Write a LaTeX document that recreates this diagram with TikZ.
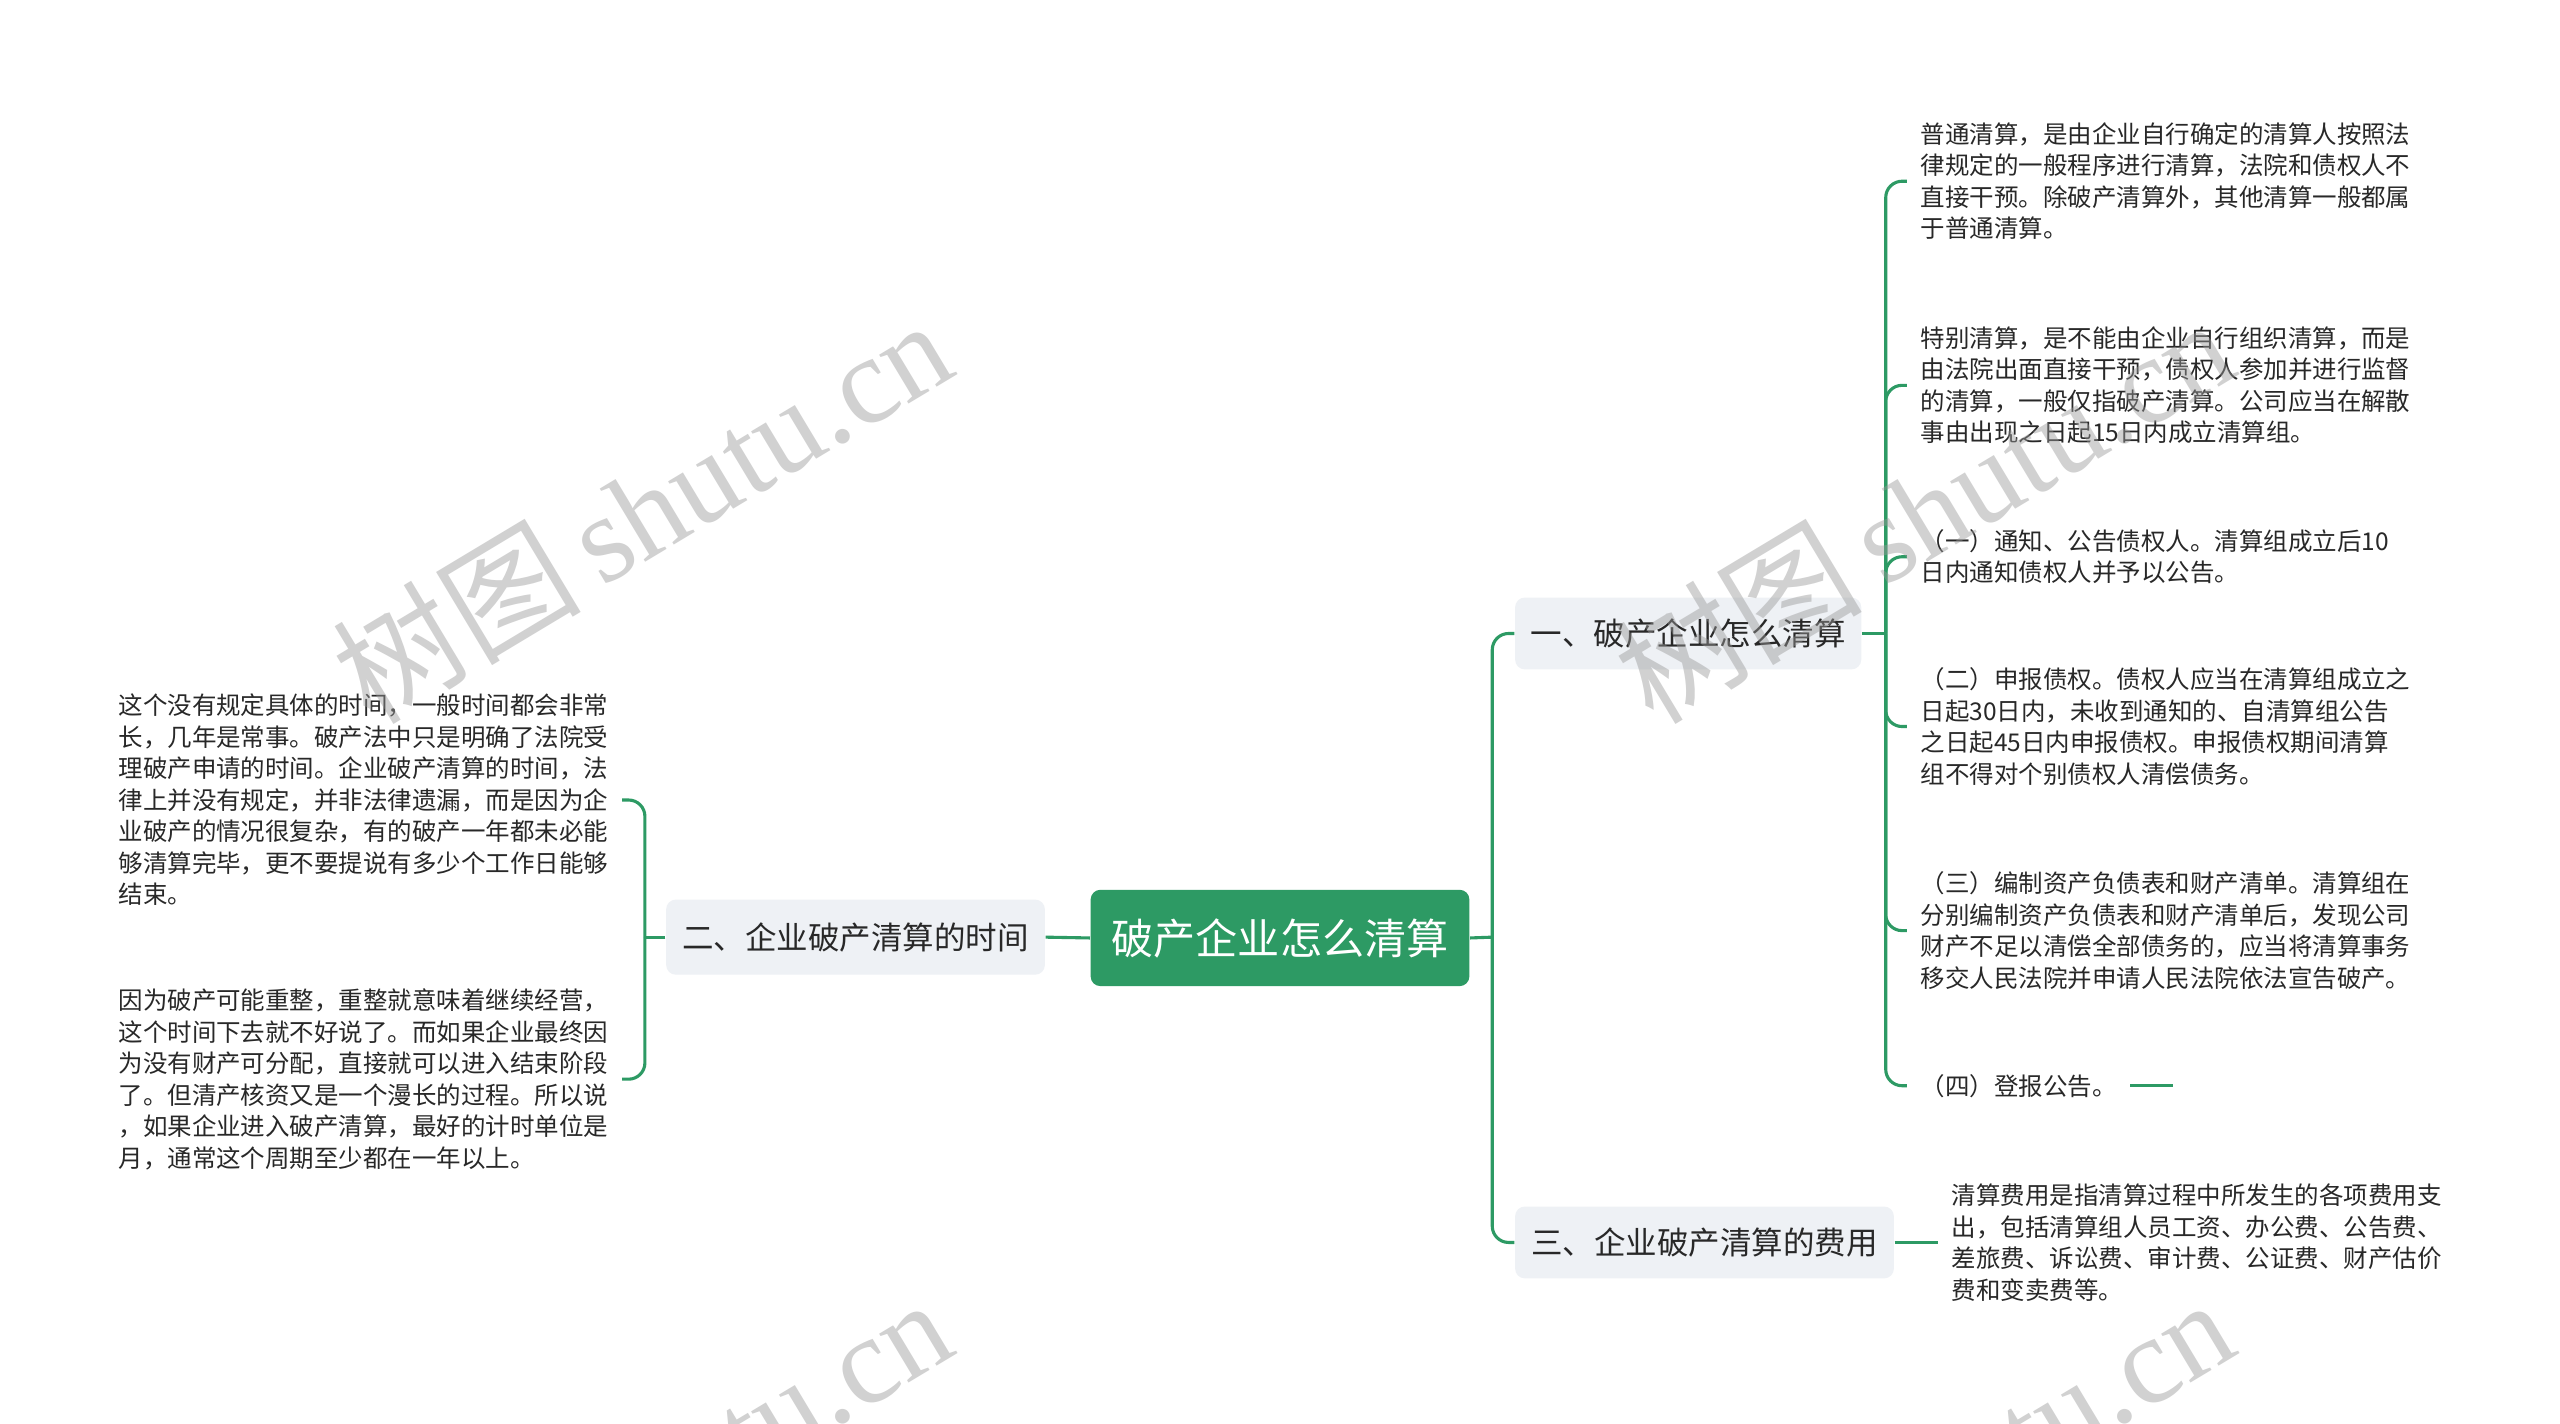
\documentclass[tikz,border=0pt]{standalone}
\usepackage{fontspec}
\setmainfont{Noto Sans CJK SC}
\newfontfamily\wmlatin{Liberation Serif}
\definecolor{mgreen}{HTML}{2D9A64}
\definecolor{bfill}{HTML}{EEF1F5}
\definecolor{txt}{HTML}{282828}
\tikzset{
  conn/.style={draw=mgreen, line width=0.95pt},
  rootbox/.style={fill=mgreen, rounded corners=3pt, text=white, minimum width=116pt, minimum height=29.5pt, inner sep=0pt, font=\fontsize{12.9pt}{15pt}\selectfont},
  branchbox/.style={fill=bfill, rounded corners=3pt, text=txt, minimum height=22pt, inner sep=0pt, font=\fontsize{9.65pt}{11pt}\selectfont},
  leaftext/.style={text=txt, align=left, inner xsep=4pt, inner ysep=0pt, font=\fontsize{7.5pt}{9.65pt}\selectfont},
  wmark/.style={rotate=31, text=black!40, opacity=0.45, inner sep=0pt},
}
\newcommand{\wmtext}{{\fontsize{38pt}{38pt}\selectfont 树图\,\wmlatin\fontsize{38pt}{38pt}\selectfont shutu.cn}}
\begin{document}
\begin{tikzpicture}[x=0.5pt,y=-0.5pt]
\useasboundingbox (0,0) rectangle (1568,872);
\fill[white] (0,0) rectangle (1568,872);

% nodes
\node[rootbox] (root) at (784,574.5) {破产企业怎么清算};
\node[branchbox, minimum width=116pt, minimum height=23pt] (b2) at (524,574) {二、企业破产清算的时间};
\node[branchbox, minimum width=106pt] (b1) at (1034,388) {一、破产企业怎么清算};
\node[branchbox, minimum width=116pt] (b3) at (1044,761) {三、企业破产清算的费用};

\node[leaftext, anchor=east] (la) at (381,490) {这个没有规定具体的时间，一般时间都会非常\\长，几年是常事。破产法中只是明确了法院受\\理破产申请的时间。企业破产清算的时间，法\\律上并没有规定，并非法律遗漏，而是因为企\\业破产的情况很复杂，有的破产一年都未必能\\够清算完毕，更不要提说有多少个工作日能够\\结束。};
\node[leaftext, anchor=east] (lb) at (381,661) {因为破产可能重整，重整就意味着继续经营，\\这个时间下去就不好说了。而如果企业最终因\\为没有财产可分配，直接就可以进入结束阶段\\了。但清产核资又是一个漫长的过程。所以说\\，如果企业进入破产清算，最好的计时单位是\\月，通常这个周期至少都在一年以上。};

\node[leaftext, anchor=west] (r1) at (1168,111) {普通清算，是由企业自行确定的清算人按照法\\律规定的一般程序进行清算，法院和债权人不\\直接干预。除破产清算外，其他清算一般都属\\于普通清算。};
\node[leaftext, anchor=west] (r2) at (1168,236) {特别清算，是不能由企业自行组织清算，而是\\由法院出面直接干预，债权人参加并进行监督\\的清算，一般仅指破产清算。公司应当在解散\\事由出现之日起15日内成立清算组。};
\node[leaftext, anchor=west] (r3) at (1168,341) {（一）通知、公告债权人。清算组成立后10\\日内通知债权人并予以公告。};
\node[leaftext, anchor=west] (r4) at (1168,445) {（二）申报债权。债权人应当在清算组成立之\\日起30日内，未收到通知的、自清算组公告\\之日起45日内申报债权。申报债权期间清算\\组不得对个别债权人清偿债务。};
\node[leaftext, anchor=west] (r5) at (1168,570) {（三）编制资产负债表和财产清单。清算组在\\分别编制资产负债表和财产清单后，发现公司\\财产不足以清偿全部债务的，应当将清算事务\\移交人民法院并申请人民法院依法宣告破产。};
\node[leaftext, anchor=west] (r6) at (1168,665) {（四）登报公告。};
\node[leaftext, anchor=west] (r7) at (1187,761) {清算费用是指清算过程中所发生的各项费用支\\出，包括清算组人员工资、办公费、公告费、\\差旅费、诉讼费、审计费、公证费、财产估价\\费和变卖费等。};

% junction coordinates
\coordinate (jL) at (395,574);
\coordinate (jR) at (914,574);
\coordinate (j1) at (1155,388);
\coordinate (r6end) at (1331,665);

% connectors
\draw[conn] (root.west) -- (b2.east);
\draw[conn] (b2.west) -- (jL);
\draw[conn, rounded corners=5pt] (jL) |- (la.east);
\draw[conn, rounded corners=5pt] (jL) |- (lb.east);
\draw[conn] (root.east) -- (jR);
\draw[conn, rounded corners=5pt] (jR) |- (b1.west);
\draw[conn, rounded corners=5pt] (jR) |- (b3.west);
\draw[conn] (b1.east) -- (j1);
\foreach \n in {r1,r2,r3,r4,r5,r6}{
  \draw[conn, rounded corners=5pt] (j1) |- (\n.west);
}
\draw[conn] (r6.east) -- (r6end);
\draw[conn] (b3.east) -- (r7.west);

% watermarks
\begin{scope}
\clip (0,0) rectangle (1568,872);
\node[wmark] (w1) at (393,312) {\wmtext};
\node[wmark] (w2) at (1178,312) {\wmtext};
\node[wmark] (w3) at (393,912) {\wmtext};
\node[wmark] (w4) at (1178,912) {\wmtext};
\end{scope}
\end{tikzpicture}
\end{document}
